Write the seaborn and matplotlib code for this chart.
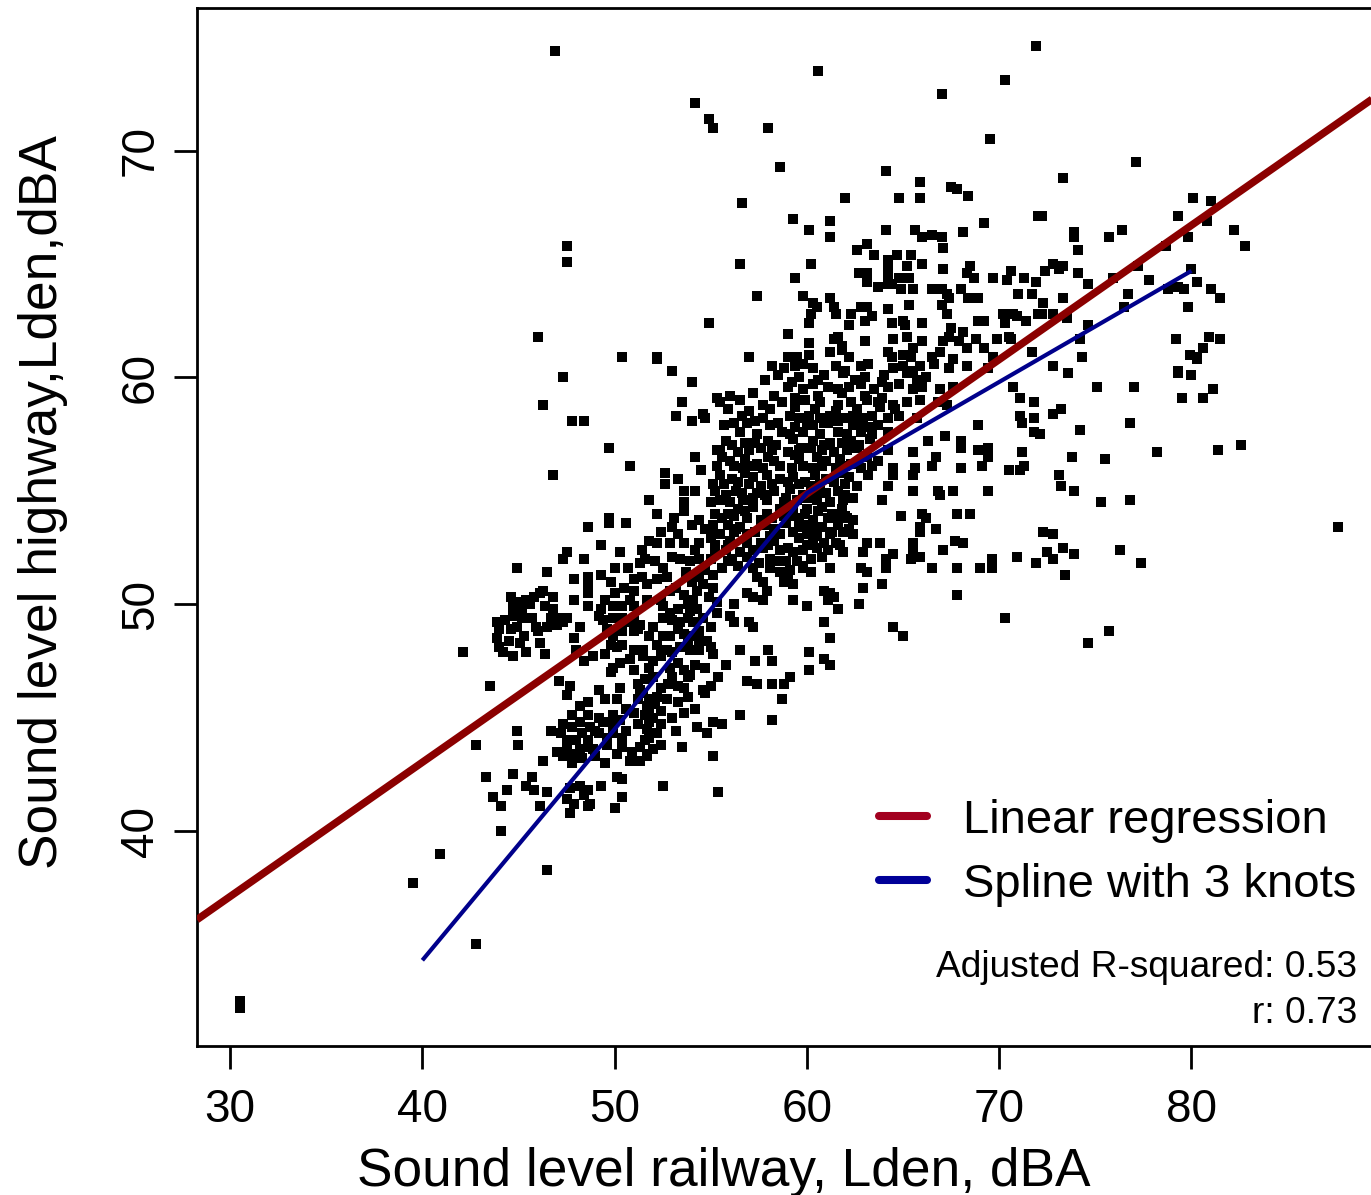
import matplotlib
matplotlib.use("Agg")
import matplotlib.pyplot as plt
import pandas as pd
import seaborn as sns
from matplotlib.lines import Line2D

# ---------------------------------------------------------------
# Observations: (railway Lden, highway Lden) in dBA
# ---------------------------------------------------------------
pts_top = [
    (30.5, 32.5), (30.5, 32.2), (46.9, 74.4), (54.2, 72.1), (54.9, 71.4), (55.1, 71.0),
    (47.5, 65.8), (47.5, 65.1), (54.9, 62.4), (46.0, 61.8), (50.4, 60.9), (52.2, 60.9),
    (71.9, 74.6), (60.6, 73.5), (70.3, 73.1), (67.0, 72.5), (58.0, 71.0), (69.5, 70.5),
    (58.6, 69.3), (64.1, 69.1), (65.9, 68.6), (67.5, 68.4), (67.8, 68.3), (56.6, 67.7),
    (62.0, 67.9), (64.8, 67.9), (65.9, 67.9), (68.4, 68.0), (72.0, 67.1), (59.3, 67.0),
    (61.2, 66.9), (60.1, 66.5), (64.1, 66.5), (65.6, 66.5), (66.0, 66.2), (66.5, 66.3),
    (67.0, 66.2), (68.1, 66.4), (69.2, 66.8), (61.2, 66.2), (63.1, 65.9), (62.6, 65.6),
    (63.5, 65.4), (64.2, 65.2), (64.7, 65.4), (65.4, 65.4), (67.1, 65.7), (66.0, 65.0),
    (56.5, 65.0), (60.2, 65.0), (59.4, 64.4), (62.7, 64.6), (63.1, 64.6), (64.2, 64.8),
    (64.2, 64.4), (65.2, 64.9), (65.3, 64.4), (64.8, 64.4), (67.1, 64.8), (68.5, 64.9),
    (68.3, 64.6), (68.7, 64.4), (69.7, 64.4), (70.6, 64.7), (70.4, 64.3), (71.3, 64.4),
    (71.9, 64.2), (63.1, 64.2), (63.7, 64.0), (64.2, 64.1), (64.4, 64.1), (64.9, 63.9),
    (65.5, 63.9), (66.5, 63.9), (67.0, 63.9), (67.3, 63.7), (67.4, 63.5), (68.0, 63.9),
    (68.4, 63.5), (68.9, 63.5), (71.0, 63.7), (71.7, 63.7), (57.4, 63.6), (59.8, 63.6),
    (60.3, 63.3), (61.2, 63.5), (60.5, 63.1), (61.4, 63.1), (62.8, 63.1), (63.1, 63.1),
    (64.2, 63.0), (65.3, 63.2), (67.0, 63.2), (67.3, 62.8), (60.2, 62.8), (61.5, 62.8),
    (62.3, 62.8), (63.0, 62.5), (63.4, 62.7), (64.4, 62.4), (65.0, 62.5), (65.1, 62.3),
    (66.0, 62.4), (68.9, 62.5), (69.2, 62.5), (70.2, 62.8), (70.3, 62.4), (70.7, 62.8),
    (70.9, 62.7), (71.4, 62.5), (72.0, 62.8), (60.1, 62.4), (62.2, 62.3), (67.5, 62.2),
    (59.0, 61.9), (61.6, 61.8), (61.4, 61.7), (63.0, 61.6), (64.5, 61.7), (65.2, 61.8),
    (66.0, 61.6), (67.1, 61.6), (67.4, 61.8), (67.9, 61.6), (68.1, 62.0), (68.8, 61.7),
    (69.9, 61.7), (70.5, 61.8), (70.6, 61.7), (60.1, 61.5), (61.8, 61.4), (61.8, 61.2),
    (65.5, 61.3), (68.3, 61.3), (69.2, 61.3), (57.0, 60.9), (59.0, 60.9), (59.5, 60.9),
    (60.1, 61.0), (61.2, 61.1), (62.2, 60.9), (64.2, 61.1), (64.4, 60.9), (65.0, 61.0),
    (65.4, 60.9), (66.5, 60.9), (66.9, 61.1), (67.6, 60.8), (69.7, 60.9), (71.7, 61.1),
]

pts_right_high = [
    (77.1, 69.5), (73.3, 68.8), (80.1, 67.9), (81.0, 67.8), (72.2, 67.1), (79.3, 67.1),
    (73.9, 66.4), (73.9, 66.2), (75.7, 66.2), (76.4, 66.5), (80.8, 66.9), (79.8, 66.2),
    (78.7, 65.8), (82.2, 66.5), (82.8, 65.8), (74.1, 65.6), (72.8, 65.0), (73.3, 64.9),
    (72.4, 64.7), (73.1, 64.8), (74.1, 64.6), (74.6, 64.1), (75.9, 64.4), (77.2, 64.9),
    (77.8, 64.3), (76.7, 63.7), (80.0, 64.8), (80.3, 64.2), (79.3, 64.0), (79.6, 63.9),
    (78.8, 63.9), (81.0, 63.9), (81.5, 63.5), (73.3, 63.5), (72.3, 63.3), (72.2, 62.8),
    (72.8, 62.8), (73.5, 62.6), (74.6, 62.3), (76.5, 63.1), (79.8, 63.1), (74.2, 61.7),
    (74.3, 60.9), (79.2, 61.7), (80.9, 61.8), (81.5, 61.7), (80.6, 61.3), (79.9, 61.0),
    (80.3, 60.9),
]

pts_right_low = [
    (72.8, 60.5), (73.6, 60.2), (79.3, 60.3), (79.3, 60.2), (80.0, 60.1), (80.3, 60.8),
    (75.1, 59.6), (77.0, 59.6), (81.1, 59.5), (79.5, 59.1), (80.6, 59.1), (72.8, 58.4),
    (73.2, 58.6), (74.2, 57.7), (76.8, 58.0), (72.1, 57.5), (73.8, 56.5), (75.5, 56.4),
    (78.2, 56.7), (81.4, 56.8), (82.6, 57.0), (73.1, 55.7), (73.2, 55.2), (73.9, 55.0),
    (75.3, 54.5), (76.8, 54.6), (87.6, 53.4), (72.3, 53.2), (72.8, 53.1), (73.3, 52.5),
    (72.5, 52.3), (72.8, 52.0), (73.9, 52.2), (76.3, 52.4), (77.4, 51.8), (73.4, 51.3),
    (75.7, 48.8), (74.6, 48.3),
]

pts_middle = [
    (70.7, 59.6), (71.1, 59.1), (71.8, 58.9), (71.1, 58.3), (71.2, 58.0), (71.8, 58.2),
    (71.8, 57.6), (68.9, 57.9), (67.2, 57.4), (68.0, 57.2), (68.0, 56.9), (66.3, 57.2),
    (65.5, 56.7), (68.9, 56.8), (69.4, 56.9), (69.4, 56.5), (71.2, 56.7), (66.7, 56.5),
    (66.5, 56.1), (65.6, 56.0), (65.5, 55.7), (68.0, 56.0), (69.1, 56.1), (70.5, 55.9),
    (71.1, 55.9), (71.3, 56.1), (64.5, 55.7), (64.2, 55.2), (65.5, 55.0), (66.8, 55.0),
    (66.9, 54.8), (67.6, 55.0), (69.4, 55.0), (63.9, 54.6), (64.9, 53.9), (66.0, 54.0),
    (66.2, 53.8), (67.8, 54.0), (68.5, 54.0), (65.9, 53.4), (65.9, 53.2), (66.7, 53.3),
    (63.1, 52.7), (63.8, 52.7), (67.7, 52.8), (68.1, 52.7), (65.5, 52.7), (65.5, 52.4),
    (64.5, 52.2), (62.9, 52.3), (67.1, 52.4), (70.9, 52.1), (64.1, 52.0), (64.1, 51.6),
    (65.4, 52.0), (65.9, 52.1), (71.9, 51.8), (66.5, 51.6), (67.8, 51.6), (69.0, 51.6),
    (69.6, 52.0), (69.6, 51.6), (62.8, 51.6), (63.1, 51.4), (61.2, 51.6), (63.9, 50.9),
    (62.9, 50.7), (67.8, 50.4), (70.3, 49.4), (64.5, 49.0), (65.0, 48.6), (61.2, 50.5),
    (61.4, 50.3), (61.1, 50.2), (60.9, 50.6), (61.6, 49.8), (62.7, 50.0), (60.0, 49.9),
    (59.3, 50.2), (60.9, 49.2), (61.2, 48.5), (60.1, 47.9), (60.1, 47.1), (60.9, 47.6),
    (61.2, 47.3), (56.5, 48.0), (58.0, 48.0), (57.3, 47.5), (58.2, 47.5), (55.8, 47.3),
    (59.1, 46.8), (58.8, 46.5), (58.2, 46.5), (56.9, 46.6), (57.4, 46.5), (57.2, 49.0),
    (57.0, 49.2), (56.2, 49.2), (56.0, 49.5), (57.7, 50.2), (57.9, 50.6), (56.9, 50.5),
    (57.2, 50.3), (56.2, 50.0), (59.3, 50.9), (59.0, 51.2), (58.6, 51.4), (58.8, 51.0),
    (57.7, 51.0), (57.4, 51.2), (60.2, 51.4), (59.8, 51.7), (58.1, 51.6), (58.7, 45.8),
    (56.5, 45.1), (58.2, 44.9), (55.6, 44.7),
]

pts_core = [
    (58.2, 60.5), (58.8, 60.4), (59.4, 60.5), (59.8, 60.6), (60.3, 60.4), (61.5, 60.5),
    (62.0, 60.3), (62.8, 60.5), (63.2, 60.6), (64.5, 60.4), (65.0, 60.5), (65.5, 60.3),
    (65.9, 60.5), (66.6, 60.6), (67.4, 60.4), (68.3, 60.5), (69.4, 60.4),
    (59.0, 59.6), (59.8, 59.5), (60.3, 59.7), (61.1, 59.6), (61.6, 59.5), (62.2, 59.6),
    (62.8, 59.7), (63.5, 59.5), (64.2, 59.6), (64.8, 59.7), (65.5, 59.5), (66.0, 59.6),
    (66.9, 59.5), (67.6, 59.6),
    (55.5, 58.9), (56.5, 59.0), (57.7, 58.8), (58.7, 58.9), (59.9, 59.0), (60.7, 58.9),
    (61.6, 58.8), (62.3, 58.9), (63.1, 59.0), (63.7, 58.9), (64.5, 58.8), (65.2, 58.9),
    (65.9, 59.0), (66.8, 58.9), (67.3, 58.8),
    (56.6, 58.3), (57.7, 58.2), (59.1, 58.3), (59.6, 58.2), (60.1, 58.3), (60.7, 58.2),
    (61.2, 58.3), (61.9, 58.2), (62.4, 58.3), (62.9, 58.2), (63.4, 58.3), (64.2, 58.2),
    (64.8, 58.3), (65.7, 58.2),
    (56.5, 57.6), (57.4, 57.5), (58.7, 57.6), (59.1, 57.5), (59.8, 57.6), (60.7, 57.5),
    (61.6, 57.6), (62.1, 57.5), (62.8, 57.6), (63.4, 57.5), (64.2, 57.6),
    (55.5, 56.8), (56.4, 56.7), (57.0, 56.8), (57.6, 56.9), (58.2, 56.8), (59.0, 56.7),
    (59.6, 56.8), (60.2, 56.9), (60.8, 56.8), (61.4, 56.7), (62.1, 56.8), (62.6, 56.9),
    (64.2, 56.8),
    (56.2, 56.1), (56.7, 56.0), (57.2, 56.1), (57.7, 56.0), (58.6, 56.1), (59.2, 56.0),
    (59.8, 56.1), (60.3, 56.0), (60.8, 56.1), (61.5, 56.0), (62.0, 56.1), (62.8, 56.0),
    (63.4, 56.1), (64.5, 56.0),
    (55.7, 55.3), (56.4, 55.4), (57.0, 55.3), (57.6, 55.2), (58.2, 55.3), (59.0, 55.4),
    (59.6, 55.3), (60.2, 55.2), (60.7, 55.3), (61.4, 55.4), (62.0, 55.3), (62.6, 55.2),
    (55.5, 54.6), (56.0, 54.5), (56.7, 54.6), (57.2, 54.7), (57.9, 54.6), (58.8, 54.5),
    (59.5, 54.6), (60.0, 54.7), (60.5, 54.6), (61.2, 54.5), (61.9, 54.6), (62.4, 54.7),
    (55.6, 53.8), (56.2, 53.9), (56.9, 53.8), (57.6, 53.7), (58.2, 53.8), (59.1, 53.9),
    (59.6, 53.8), (60.3, 53.7), (61.1, 53.8), (61.6, 53.9), (62.1, 53.8), (62.4, 53.7),
    (55.5, 53.1), (56.2, 53.2), (56.9, 53.1), (58.1, 53.0), (58.6, 53.1), (59.3, 53.2),
    (60.0, 53.1), (60.5, 53.0), (61.2, 53.1), (61.9, 53.2), (62.4, 53.1),
    (55.8, 52.4), (56.5, 52.3), (57.2, 52.4), (57.7, 52.5), (58.6, 52.4), (59.3, 52.3),
    (59.8, 52.4), (60.5, 52.5), (61.1, 52.4), (61.9, 52.3),
    (55.6, 51.6), (56.4, 51.7), (57.2, 51.6), (59.1, 51.5), (59.8, 51.6),
    (56.0, 59.2), (57.2, 59.3), (58.3, 59.2), (59.4, 59.1), (60.6, 59.2), (61.8, 59.3),
    (63.0, 59.2), (63.9, 59.1),
    (55.9, 58.6), (57.0, 58.5), (58.1, 58.6), (59.4, 58.7), (60.4, 58.6), (61.5, 58.5),
    (62.6, 58.6), (63.8, 58.7), (64.6, 58.6),
    (55.7, 57.9), (56.9, 58.0), (58.1, 57.9), (59.4, 57.8), (60.3, 57.9), (61.1, 58.0),
    (62.4, 57.9), (63.2, 57.8),
    (55.8, 57.2), (56.8, 57.1), (58.0, 57.2), (59.3, 57.3), (60.3, 57.2), (61.2, 57.1),
    (62.3, 57.2), (63.3, 57.3),
    (55.6, 56.5), (56.8, 56.4), (58.0, 56.5), (59.4, 56.6), (60.5, 56.5), (61.7, 56.4),
    (63.1, 56.5),
    (55.5, 55.7), (56.8, 55.8), (57.9, 55.7), (59.3, 55.6), (60.4, 55.7), (61.7, 55.8),
    (63.2, 55.7),
    (56.3, 55.0), (57.4, 54.9), (58.3, 55.0), (59.1, 55.1), (60.3, 55.0), (61.0, 54.9),
    (61.6, 55.0),
    (56.4, 54.2), (57.2, 54.3), (58.6, 54.2), (59.3, 54.1), (60.0, 54.2), (60.8, 54.3),
    (61.8, 54.2),
    (55.9, 53.5), (56.5, 53.4), (57.8, 53.5), (58.9, 53.6), (59.8, 53.5), (60.8, 53.4),
    (61.6, 53.5),
    (56.0, 52.8), (57.6, 52.7), (58.3, 52.8), (59.6, 52.9), (60.3, 52.8), (61.5, 52.7),
    (56.1, 52.0), (56.9, 52.1), (58.1, 52.0), (58.9, 51.9), (60.2, 52.0), (60.8, 52.1),
]

pts_core_extra = [
    (58.5, 60.1), (59.6, 60.0), (60.9, 60.1), (61.9, 60.2), (63.0, 60.0), (64.0, 60.1),
    (65.2, 60.2), (66.2, 60.0), (57.8, 59.9), (59.2, 59.8), (60.6, 59.9), (62.5, 59.9),
    (63.9, 59.8), (65.7, 59.9), (56.2, 58.0), (57.3, 58.1), (58.5, 58.0), (60.0, 57.9),
    (60.9, 58.0), (61.6, 58.1), (62.7, 58.0), (63.7, 57.9), (56.1, 57.0), (57.3, 57.1),
    (58.4, 57.0), (59.7, 56.9), (60.9, 57.0), (61.8, 57.1), (62.7, 57.0), (56.0, 56.3),
    (57.4, 56.2), (58.3, 56.3), (59.6, 56.4), (61.0, 56.3), (62.3, 56.2), (63.7, 56.3),
    (56.1, 55.5), (57.2, 55.6), (58.6, 55.5), (59.9, 55.4), (61.0, 55.5), (62.2, 55.6),
    (55.8, 54.8), (56.6, 54.9), (57.8, 54.8), (58.9, 54.7), (59.8, 54.8), (60.8, 54.9),
    (62.0, 54.8), (55.9, 54.0), (56.8, 54.1), (57.9, 54.0), (58.8, 53.9), (59.9, 54.0),
    (60.6, 54.1), (61.3, 54.0), (62.0, 53.9), (56.3, 53.3), (57.3, 53.2), (58.3, 53.3),
    (59.6, 53.4), (60.3, 53.3), (61.3, 53.2), (62.2, 53.3), (55.9, 52.6), (56.9, 52.7),
    (58.0, 52.6), (59.0, 52.5), (60.0, 52.6), (60.9, 52.7), (61.7, 52.6), (55.9, 51.9),
    (57.5, 51.8), (58.5, 51.9), (59.5, 51.9),
]

pts_left = [
    (52.2, 60.8), (53.0, 60.3), (47.3, 60.0), (54.0, 59.8), (55.3, 59.1), (53.5, 58.9),
    (46.3, 58.8), (47.8, 58.1), (48.4, 58.1), (53.2, 58.3), (54.0, 58.1), (54.6, 58.4),
    (54.7, 58.2), (49.7, 56.9), (50.8, 56.1), (46.8, 55.7), (54.2, 56.5), (54.5, 55.9),
    (55.3, 56.1), (55.3, 56.8), (52.6, 55.8), (52.6, 55.3), (53.3, 55.5), (53.6, 55.0),
    (54.2, 55.0), (55.1, 55.3), (55.2, 55.0), (51.8, 54.6), (53.6, 54.5), (53.6, 54.1),
    (55.0, 54.5), (55.2, 54.0), (52.2, 54.0), (49.7, 53.8), (49.7, 53.6), (50.6, 53.6),
    (48.6, 53.4), (53.0, 53.4), (53.3, 53.1), (53.6, 52.7), (54.0, 53.5), (55.1, 53.5),
    (55.2, 53.1), (54.4, 52.7), (55.0, 52.9), (55.2, 52.6), (51.8, 52.8), (52.2, 52.7),
    (52.9, 52.7), (47.5, 52.3), (47.3, 52.0), (44.9, 51.6), (46.5, 51.4), (47.9, 51.1),
    (48.6, 51.2), (48.6, 50.9), (48.6, 50.5), (50.0, 51.6), (50.7, 51.6), (51.3, 51.8),
    (51.6, 52.0), (52.1, 51.9), (52.5, 51.6), (53.0, 52.1), (53.4, 52.0), (53.9, 51.9),
    (54.4, 52.0), (55.2, 52.3), (55.0, 52.0), (51.0, 51.1), (51.0, 50.6), (51.4, 51.2),
    (51.7, 50.9), (52.2, 51.1), (52.7, 51.2), (52.9, 50.6), (53.7, 51.4), (54.0, 51.0),
    (54.4, 51.2), (55.1, 50.7), (44.6, 50.3), (45.0, 50.1), (45.4, 50.2), (45.8, 50.3),
    (46.1, 50.5), (46.3, 50.6), (46.8, 50.3), (47.9, 50.2), (48.6, 49.9), (49.5, 50.2),
    (49.3, 49.8), (49.9, 49.9), (50.4, 49.9), (50.8, 50.2), (51.0, 49.9), (51.7, 50.2),
    (44.7, 49.9), (45.2, 49.8), (46.8, 49.8), (52.5, 49.9), (52.9, 49.6), (53.3, 49.8),
    (53.8, 50.0), (54.1, 50.2), (54.3, 49.8), (54.6, 49.4), (55.3, 50.1), (55.3, 49.6),
    (44.7, 49.5), (45.2, 49.4), (45.7, 49.4), (46.7, 49.4), (47.2, 49.4), (47.5, 49.4),
    (49.2, 49.5), (49.4, 49.3), (49.9, 49.4), (50.4, 49.4), (51.0, 49.3), (51.3, 49.1),
    (52.5, 49.4), (53.0, 49.3), (53.4, 49.2), (53.8, 49.4), (54.1, 49.2), (55.0, 49.0),
    (43.9, 49.2), (44.0, 48.9), (44.6, 48.9), (44.9, 49.0), (46.0, 48.8), (46.5, 49.0),
    (47.0, 49.1), (47.3, 49.2), (49.6, 48.9), (49.9, 48.6), (50.4, 48.8), (51.0, 48.8),
    (51.2, 48.9), (51.8, 48.6), (52.5, 48.6), (52.9, 48.6), (53.6, 48.7), (53.8, 48.4),
    (54.1, 48.6), (54.4, 48.8), (54.8, 48.4), (43.9, 48.5), (44.0, 48.1), (44.2, 47.9),
    (45.3, 48.6), (46.1, 48.3), (47.9, 48.5), (49.8, 48.2), (50.1, 48.1), (50.4, 48.2),
    (51.0, 48.0), (51.5, 48.0), (51.5, 47.7), (52.2, 48.2), (52.4, 47.9), (52.7, 48.0),
    (53.0, 47.9), (53.4, 48.1), (53.9, 48.0), (54.4, 48.0), (55.0, 48.1), (42.1, 47.9),
    (44.7, 47.7), (45.4, 47.9), (46.4, 47.8), (48.4, 47.5), (48.9, 47.7), (49.5, 47.8),
    (49.9, 47.2), (50.3, 47.4), (49.8, 47.0), (51.0, 47.1), (52.0, 47.5), (52.4, 47.7),
    (53.3, 47.4), (53.6, 47.1), (53.8, 46.8), (54.7, 47.2), (43.5, 46.4), (47.1, 46.6),
    (47.7, 46.4), (49.2, 46.2), (50.3, 46.3), (51.2, 46.5), (51.3, 46.2), (53.3, 46.4),
    (53.6, 46.3), (54.6, 46.2), (54.4, 53.7), (54.7, 53.3), (54.2, 52.4), (54.7, 51.5),
    (55.1, 51.3), (54.3, 50.6), (54.9, 50.3), (53.9, 49.7), (54.4, 48.4), (55.1, 47.8),
    (54.2, 47.3), (55.4, 46.8), (53.9, 46.9), (55.0, 46.4),
]

pts_left_extra = [
    (53.1, 53.8), (52.4, 53.2), (51.4, 52.4), (50.3, 52.3), (49.3, 52.6), (48.4, 52.0),
    (49.8, 51.0), (50.5, 50.7), (53.2, 50.7), (52.4, 50.2), (53.6, 50.4), (54.6, 50.9),
    (50.0, 50.5), (49.3, 51.3), (53.3, 48.9), (52.0, 49.0), (50.7, 49.2), (48.2, 49.0),
    (48.0, 48.0), (50.8, 47.6), (51.8, 47.2), (52.9, 47.2), (53.0, 46.8), (52.8, 46.5),
    (52.0, 46.8), (51.2, 45.8), (50.6, 45.4), (50.6, 44.4), (49.0, 44.4), (48.3, 44.3),
    (47.8, 44.6), (49.6, 44.1), (49.0, 43.3), (50.1, 43.4), (50.9, 43.5), (52.4, 46.3),
    (51.6, 46.7), (53.6, 45.2), (54.2, 45.4), (53.0, 45.0), (54.3, 44.6), (45.6, 50.0),
    (46.4, 49.9), (45.9, 49.0), (44.3, 49.3), (45.1, 48.3), (44.5, 48.4),
]

pts_low = [
    (47.5, 46.0), (49.5, 45.8), (50.1, 45.8), (48.6, 45.7), (48.2, 45.5), (47.8, 45.1),
    (48.6, 45.1), (49.2, 45.0), (49.9, 45.1), (47.3, 44.7), (48.2, 44.8), (48.7, 44.6),
    (49.4, 44.8), (49.9, 44.7), (50.3, 44.9), (51.0, 45.2), (51.7, 45.5), (52.0, 45.0),
    (52.4, 45.3), (52.7, 45.8), (53.3, 45.7), (53.8, 45.9), (54.7, 46.1), (51.5, 46.1),
    (52.2, 45.9), (44.9, 44.4), (46.7, 44.4), (47.2, 44.3), (47.5, 44.0), (48.0, 44.0),
    (48.6, 44.0), (49.2, 44.3), (49.9, 44.3), (50.4, 44.1), (51.2, 44.7), (51.7, 44.5),
    (52.2, 44.3), (53.2, 44.4), (54.8, 44.3), (55.1, 44.8), (42.8, 43.8), (45.0, 43.8),
    (47.0, 43.5), (47.5, 43.7), (47.8, 43.4), (48.2, 43.6), (48.6, 43.7), (48.9, 43.6),
    (49.6, 43.8), (50.4, 43.7), (51.3, 43.7), (51.7, 43.4), (52.0, 43.6), (53.5, 43.7),
    (55.1, 43.3), (46.3, 43.1), (47.3, 43.3), (47.8, 43.0), (48.3, 43.2), (49.5, 43.0),
    (50.8, 43.1), (51.3, 43.1), (51.7, 43.3), (43.3, 42.4), (44.7, 42.5), (45.7, 42.4),
    (45.4, 42.0), (45.8, 41.8), (44.4, 41.8), (46.5, 41.7), (43.7, 41.5), (44.1, 41.1),
    (46.1, 41.1), (47.7, 41.9), (48.2, 42.0), (48.6, 41.8), (48.4, 41.6), (47.5, 41.4),
    (47.9, 41.2), (47.7, 40.8), (48.7, 41.2), (48.6, 41.1), (49.3, 42.0), (50.1, 42.4),
    (50.4, 42.3), (50.4, 41.5), (50.0, 41.0), (52.5, 42.0), (55.4, 41.7), (44.1, 40.0),
    (40.9, 39.0), (39.5, 37.7), (46.5, 38.3), (42.8, 35.0), (51.8, 45.8), (51.8, 45.3),
    (51.8, 44.8), (51.8, 44.1), (52.4, 44.7), (52.4, 43.8), (51.6, 45.1), (51.6, 44.0),
    (52.1, 45.6),
]

# Fitted models
lin_intercept = 19.35
lin_slope = 0.592
spline_x = [40.0, 50.5, 55.5, 60.0, 80.0]
spline_y = [34.3, 45.0, 50.3, 54.9, 64.7]
adj_r2 = 0.53
r_value = 0.73

x_ticks = [30, 40, 50, 60, 70, 80]
y_ticks = [40, 50, 60, 70]

# ---------------------------------------------------------------
sns.set_theme(style="white")
plt.rcParams["font.family"] = ["Liberation Sans", "DejaVu Sans"]
plt.rcParams["text.color"] = "black"
plt.rcParams["axes.labelcolor"] = "black"
plt.rcParams["xtick.color"] = "black"
plt.rcParams["ytick.color"] = "black"

all_pts = (pts_top + pts_right_high + pts_right_low + pts_middle + pts_core
           + pts_core_extra + pts_left + pts_left_extra + pts_low)
df = pd.DataFrame(all_pts, columns=["railway", "highway"])

W, H = 1371, 1195
fig = plt.figure(figsize=(W / 100, H / 100), dpi=100)
ax = fig.add_axes([197 / W, 1 - 1046 / H, 1176 / W, 1038 / H])

sns.scatterplot(data=df, x="railway", y="highway", ax=ax, marker="s", s=42,
                color="black", linewidth=0, legend=False, zorder=2)

# Linear regression across the full axis range
x0, x1 = 28.28, 89.44
ax.plot([x0, x1], [lin_intercept + lin_slope * x0, lin_intercept + lin_slope * x1],
        color="#8B0000", lw=5.4, solid_capstyle="butt", zorder=3)
# Piecewise spline fit
ax.plot(spline_x, spline_y, color="#00008B", lw=3.0, solid_capstyle="butt", zorder=4)

ax.set_xlim(x0, x1)
ax.set_ylim(30.52, 76.29)
ax.set_xticks(x_ticks)
ax.set_yticks(y_ticks)
ax.tick_params(axis="both", which="major", direction="out", length=16.5, width=2.0,
               labelsize=33, color="black", labelcolor="black",
               bottom=True, left=True, top=False, right=False)
ax.tick_params(axis="x", pad=13.5)
ax.tick_params(axis="y", pad=8, labelrotation=90)
for lab in ax.get_yticklabels():
    lab.set_va("center")

for side in ["left", "bottom", "top", "right"]:
    ax.spines[side].set_visible(True)
    ax.spines[side].set_color("black")
    ax.spines[side].set_linewidth(2.0)

ax.set_xlabel("Sound level railway, Lden, dBA", fontsize=38.3, color="black")
ax.set_ylabel("Sound level highway,Lden,dBA", fontsize=38.3, color="black")
ax.xaxis.set_label_coords((724 - 197) / 1176, (1046 - 1186) / 1038)
ax.xaxis.label.set_va("baseline")
ax.yaxis.set_label_coords((57 - 197) / 1176, (1046 - 502) / 1038)
ax.yaxis.label.set_va("baseline")

handles = [Line2D([], [], color="#A2001F", lw=5.8),
           Line2D([], [], color="#000098", lw=5.8)]
ax.legend(handles, ["Linear regression", "Spline with 3 knots"],
          loc="upper left", bbox_to_anchor=((879 - 197) / 1176, (1046 - 799) / 1038),
          frameon=False, fontsize=34, borderpad=0, borderaxespad=0,
          handlelength=1.02, handletextpad=0.76, labelspacing=0.42)

ax.text((1357 - 197) / 1176, (1046 - 977) / 1038, f"Adjusted R-squared: {adj_r2:.2f}",
        transform=ax.transAxes, ha="right", va="baseline", fontsize=26.7)
ax.text((1357 - 197) / 1176, (1046 - 1023) / 1038, f"r: {r_value:.2f}",
        transform=ax.transAxes, ha="right", va="baseline", fontsize=26.7)

fig.savefig("out.png", dpi=100)
